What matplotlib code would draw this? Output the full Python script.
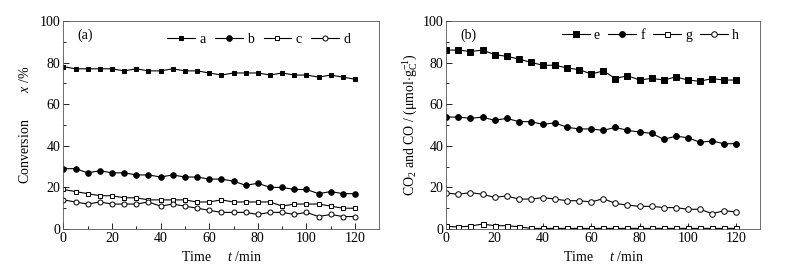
import matplotlib.pyplot as plt
import numpy as np

plt.rcParams['font.family'] = ['Liberation Serif', 'DejaVu Serif']
plt.rcParams['mathtext.fontset'] = 'custom'
plt.rcParams['mathtext.rm'] = 'Liberation Serif'
plt.rcParams['mathtext.it'] = 'Liberation Serif:italic'
plt.rcParams['font.size'] = 10

# time (min)
t = np.arange(0, 121, 5)

# (a) conversion x /%
a = [78, 77, 77, 77, 77, 76, 77, 76, 76, 77, 76, 76, 75, 74, 75, 75, 75, 74, 75, 74, 74, 73, 74, 73, 72]
b = [29, 29, 27, 28, 27, 27, 26, 26, 25, 26, 25, 25, 24, 24, 23, 21, 22, 20, 20, 19, 19, 17, 18, 17, 17]
c = [19, 18, 17, 16, 16, 15, 15, 14, 14, 14, 14, 13, 13, 14, 13, 13, 13, 13, 11, 12, 12, 12, 11, 10, 10]
d = [14, 13, 12, 13, 12, 12, 12, 13, 11, 12, 11, 10, 9, 8, 8, 8, 7, 8, 8, 7, 8, 6, 7, 6, 6]

# (b) CO2 and CO / (umol/gC)
e = [86, 86, 85.3, 86, 83.8, 83, 81.7, 80.1, 78.7, 78.7, 77.4, 76.6, 74.5, 76, 72.3, 73.7,
     71.6, 72.4, 71.6, 73.1, 71.6, 71, 72.3, 71.6, 71.6]
f = [53.8, 53.8, 53.2, 53.8, 52.2, 53.2, 51.6, 51.6, 50.3, 51, 48.9, 48.1, 48.1, 47.4, 48.9,
     47.4, 46.6, 46, 43.1, 44.6, 43.9, 41.7, 42.3, 41, 41]
g = [1.3, 1.0, 1.4, 2.4, 1.6, 1.6, 1.1, 0.3, 0.3, 0.3, 0.3, 0.3, 0.3, 0.3, 0.3, 0.3,
     0.3, 0.3, 0.3, 0.3, 0.3, 0.3, 0.3, 0.3, 0.3]
h = [17.3, 16.7, 17.5, 16.7, 15.2, 15.9, 14.4, 14.4, 15.1, 14.4, 13.6, 13.6, 13, 14.6, 12.3,
     11.5, 10.9, 10.9, 10.3, 10.3, 9.5, 9.5, 7.4, 8.8, 8.2]

fig = plt.figure(figsize=(7.97, 2.72), dpi=100)
ax1 = fig.add_axes([0.0795, 0.158, 0.3965, 0.765])
ax2 = fig.add_axes([0.560, 0.158, 0.394, 0.765])

styles = [('s', 'k'), ('o', 'k'), ('s', 'w'), ('o', 'w')]

for ax, series, names, ms in [(ax1, [a, b, c, d], 'abcd', [3.4, 4.0, 3.4, 3.6]),
                              (ax2, [e, f, g, h], 'efgh', [4.4, 4.2, 3.6, 4.0])]:
    for y, name, (m, fc), s in zip(series, names, styles, ms):
        ax.plot(t, y, '-', color='k', lw=0.8, marker=m, mfc=fc, mec='k',
                mew=0.7, ms=s, label=name)
    ax.set_xlim(0, 130)
    ax.set_ylim(0, 100)
    ax.set_xticks(range(0, 121, 20))
    ax.set_xticks(range(0, 121, 10), minor=True)
    ax.set_yticks(range(0, 101, 20))
    ax.set_yticks(range(0, 101, 10), minor=True)
    ax.tick_params(which='both', direction='in', width=0.6)
    ax.tick_params(which='major', length=4, pad=2)
    ax.tick_params(which='minor', length=2)
    for sp in ax.spines.values():
        sp.set_linewidth(0.6)
        sp.set_color('#555555')
    ax.set_xlabel('Time     $t$ /min', labelpad=4)

ax1.text(0.045, 0.93, '(a)', transform=ax1.transAxes, va='center')
ax2.text(0.045, 0.93, '(b)', transform=ax2.transAxes, va='center')

ax1.set_ylabel('Conversion        $x$ /%', labelpad=6)
ax2.set_ylabel(r'CO$_2$ and CO / ($\mathrm{\mu}$mol$\cdot$g$_\mathrm{C}^{-1}$)', labelpad=2)

ax1.legend(loc='center right', bbox_to_anchor=(0.93, 0.91), ncol=4, frameon=False,
           handlelength=2.0, handletextpad=0.3, columnspacing=0.7, borderpad=0)
ax2.legend(loc='center right', bbox_to_anchor=(0.955, 0.93), ncol=4, frameon=False,
           handlelength=2.0, handletextpad=0.3, columnspacing=0.6, borderpad=0)

fig.savefig('out.png', dpi=100)
